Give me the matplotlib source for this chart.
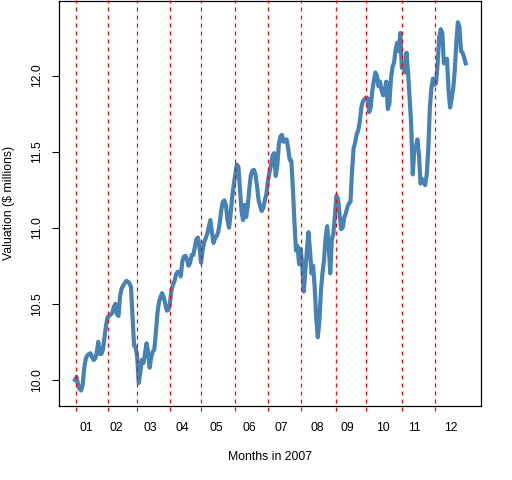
import numpy as np
import matplotlib
matplotlib.use("Agg")
import matplotlib.pyplot as plt
import matplotlib.transforms as mtransforms

plt.rcParams['font.family'] = ['Liberation Sans', 'DejaVu Sans']

# portfolio valuation, one value per trading day (index 0 = start of 2007)
valuation = [
    10.00, 10.02, 9.97, 9.94, 9.93, 9.97, 10.08, 10.14, 10.16, 10.17,
    10.175, 10.15, 10.13, 10.14, 10.18, 10.25, 10.17, 10.17, 10.20, 10.28,
    10.36, 10.41, 10.42, 10.43, 10.44, 10.48, 10.50, 10.43, 10.42, 10.55,
    10.60, 10.62, 10.635, 10.65, 10.645, 10.635, 10.61, 10.42, 10.225, 10.215,
    10.15, 9.98, 10.05, 10.13, 10.11, 10.17, 10.24, 10.18, 10.08, 10.15,
    10.185, 10.20, 10.31, 10.44, 10.51, 10.545, 10.57, 10.545, 10.50, 10.455,
    10.46, 10.50, 10.59, 10.625, 10.65, 10.695, 10.71, 10.71, 10.68, 10.78,
    10.81, 10.815, 10.79, 10.75, 10.77, 10.82, 10.82, 10.87, 10.925, 10.935,
    10.87, 10.77, 10.85, 10.905, 10.93, 10.96, 11.005, 11.05, 10.97, 10.90,
    10.93, 10.945, 10.97, 11.03, 11.115, 11.17, 11.18, 11.15, 11.05, 11.00,
    11.09, 11.20, 11.28, 11.35, 11.415, 11.40, 11.26, 11.11, 11.05, 11.15,
    11.07, 11.14, 11.255, 11.345, 11.375, 11.38, 11.35, 11.27, 11.18, 11.14,
    11.11, 11.13, 11.18, 11.22, 11.31, 11.365, 11.41, 11.475, 11.49, 11.34,
    11.41, 11.55, 11.60, 11.61, 11.565, 11.575, 11.58, 11.52, 11.445, 11.44,
    11.26, 11.04, 10.85, 10.88, 10.76, 10.86, 10.76, 10.58, 10.72, 10.85,
    10.97, 10.85, 10.70, 10.75, 10.61, 10.41, 10.28, 10.38, 10.58, 10.70,
    10.785, 10.93, 11.01, 10.895, 10.70, 10.92, 10.96, 11.08, 11.21, 11.19,
    11.09, 10.99, 11.00, 11.065, 11.095, 11.135, 11.16, 11.17, 11.37, 11.52,
    11.56, 11.615, 11.64, 11.70, 11.79, 11.83, 11.845, 11.855, 11.85, 11.76,
    11.79, 11.90, 11.965, 12.02, 12.00, 11.93, 11.96, 11.90, 11.87, 11.90,
    11.96, 11.78, 11.815, 11.98, 12.055, 12.085, 12.17, 12.215, 12.16, 12.28,
    12.05, 12.065, 12.02, 12.15, 12.02, 11.85, 11.68, 11.35, 11.51, 11.53,
    11.58, 11.48, 11.29, 11.32, 11.30, 11.28, 11.35, 11.52, 11.79, 11.92,
    11.98, 11.94, 11.95, 12.08, 12.255, 12.305, 12.28, 12.08, 12.08, 12.11,
    11.90, 11.79, 11.85, 11.915, 12.035, 12.22, 12.35, 12.32, 12.16, 12.15,
    12.12, 12.08,
]

# first trading day of each month
month_starts = [1, 21, 40, 61, 81, 103, 124, 145, 168, 187, 210, 231]
month_label_pos = [7.4, 26.9, 48.7, 69.2, 90.7, 112, 132.3, 155.7, 175, 198, 218, 241.5]
month_labels = ['01', '02', '03', '04', '05', '06', '07', '08', '09', '10', '11', '12']
yticks = [10.0, 10.5, 11.0, 11.5, 12.0]

days = np.arange(len(valuation))

fig = plt.figure(figsize=(5.12, 4.8), dpi=100)
ax = fig.add_axes([59.3 / 512, 1 - 405.7 / 480, 422 / 512, 404.7 / 480])

ax.plot(days, valuation, color='steelblue', lw=3, solid_joinstyle='round', zorder=2)

for m in month_starts:
    ax.axvline(m, ymin=-0.013, ymax=1.003, color='red', lw=0.9,
               linestyle=(0, (3.2, 3.2)), clip_on=False, zorder=3)

span = days[-1] - days[0]
ax.set_xlim(days[0] - 0.04 * span, days[-1] + 0.04 * span)
ax.set_ylim(9.83, 12.49)

ax.set_yticks(yticks)
ax.set_yticklabels(['%.1f' % t for t in yticks], rotation=90, va='center', fontsize=8.8)
ax.tick_params(axis='y', length=5.2, width=0.75, pad=6.3, direction='out')
ax.set_xticks([])

trans = mtransforms.blended_transform_factory(ax.transData, ax.transAxes)
for pos, lab in zip(month_label_pos, month_labels):
    ax.text(pos, -0.055, lab, transform=trans, ha='center', va='center', fontsize=8.8)

for s in ax.spines.values():
    s.set_linewidth(0.9)

fig.text(270.3 / 512, 1 - 457 / 480, 'Months in 2007', ha='center', va='center', fontsize=8.8)
fig.text(9 / 512, 1 - 203 / 480, 'Valuation ($ millions)', ha='center', va='center',
         rotation=90, fontsize=8.8)

fig.savefig('out.png', dpi=100)
